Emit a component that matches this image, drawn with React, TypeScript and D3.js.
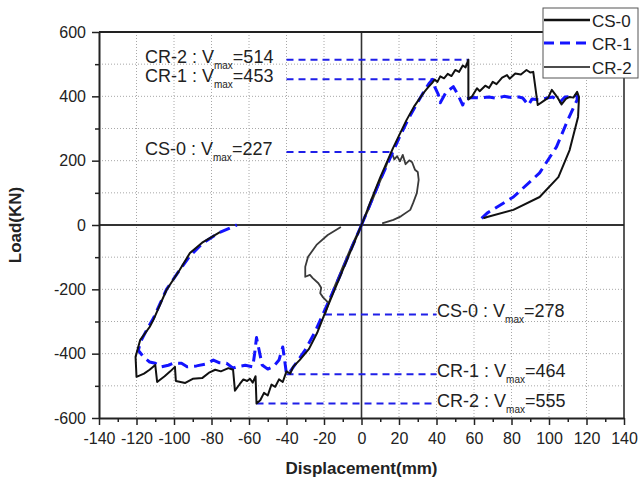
import * as d3 from 'd3';
import {useEffect, useRef} from 'react';

const width = 639;
const height = 483;
const margin = {top: 32, right: 15, bottom: 65, left: 99};

const xMajor = d3.range(-140, 141, 20);
const xMinor = d3.range(-130, 140, 20);
const yMajor = d3.range(-600, 601, 200);
const yMinor = d3.range(-500, 600, 200);

// displacement (mm), load (kN)
const cs0Positive: [number, number][] = [
	[0, 0], [4, 52], [8, 108], [12, 166], [16, 227], [17.5, 204], [19, 214], [20.5, 198], [22, 218],
	[23.5, 189], [25.5, 201], [27, 195], [28.5, 172], [30, 165], [30.5, 140], [29.5, 99], [27.5, 68],
	[26, 47], [21, 27], [17, 16], [11, 5],
];
const cs0Negative: [number, number][] = [
	[0, 0], [-5, -62], [-10, -130], [-15, -200], [-19.5, -278], [-18, -240], [-20.5, -225], [-22, -212],
	[-21.5, -195], [-23, -181], [-26, -165], [-27.5, -155], [-30, -161], [-30, -130], [-28.5, -99],
	[-24, -62], [-18, -31], [-11, -6],
];
const cr1Positive: [number, number][] = [
	[0, 0], [5, 70], [10, 140], [15, 205], [20, 270], [25, 330], [29, 372], [33, 412], [36, 440], [38, 453],
	[39, 430], [41, 405], [42, 380], [45, 412], [49, 430], [51, 410], [54, 373], [55, 392], [59, 396],
	[63, 395], [68, 398], [72, 394], [76, 400], [80, 396], [84, 398], [86, 395], [89, 373], [91, 392],
	[95, 389], [99, 395], [102, 398], [106, 383], [108.5, 398], [112, 400], [115, 404], [115, 389],
	[110, 326], [104, 243], [95, 162], [81, 87], [67, 37], [63, 15],
];
const cr1Negative: [number, number][] = [
	[0, 0], [-5, -68], [-10, -138], [-15, -205], [-20, -270], [-25, -335], [-30, -388], [-34, -422],
	[-38, -455], [-40, -464], [-41, -420], [-42, -379], [-44, -420], [-47, -440], [-50, -448], [-53, -435],
	[-56, -350], [-57, -400], [-58, -441], [-62, -436], [-66, -440], [-68.5, -445], [-72, -430], [-76, -428],
	[-79, -420], [-83, -432], [-88, -438], [-93, -441], [-96, -430], [-100, -429], [-103, -436], [-107, -441],
	[-110, -430], [-113, -426], [-116, -412], [-119, -390], [-118, -365], [-114, -320], [-111, -290],
	[-104, -200], [-97, -140], [-92, -100], [-85, -58], [-76, -24], [-66.5, 0],
];
const cr2Positive: [number, number][] = [
	[0, 0], [5, 75], [10, 148], [16.8, 239], [20, 278], [24, 326], [28, 368], [33, 410], [35.5, 428],
	[37.6, 441], [39, 452], [40.5, 445], [42, 462], [44, 456], [46, 470], [48, 463], [50, 482], [52, 476],
	[54, 496], [55.5, 490], [57, 514], [57, 390], [59, 400], [61.6, 425], [63, 416], [66, 433], [68, 426],
	[70, 445], [72, 438], [75, 458], [77.6, 466], [79, 455], [82, 471], [85, 468], [88, 482], [90, 474],
	[91.6, 476], [94, 373], [97, 385], [99.5, 395], [101.5, 420], [104.7, 395], [106.7, 375], [109, 392],
	[111, 398], [113, 396], [115, 414], [116, 398], [115.5, 336], [111, 233], [105, 149], [95, 87],
	[81, 47], [67, 25], [65, 21],
];
const cr2Negative: [number, number][] = [
	[0, 0], [-5, -70], [-10, -140], [-15, -210], [-19.5, -274], [-23.7, -336], [-28, -385], [-33, -420],
	[-36.5, -441], [-38, -462], [-40, -455], [-42, -488], [-44, -480], [-46, -503], [-48, -496], [-50, -530],
	[-52, -522], [-54, -545], [-56, -555], [-56.5, -470], [-58, -490], [-59.5, -478], [-61, -485],
	[-63, -480], [-65, -495], [-67.5, -515], [-68.5, -450], [-71, -445], [-75, -455], [-78, -450],
	[-81, -458], [-85, -476], [-90, -478], [-94, -491], [-99, -485], [-99.5, -441], [-102, -455],
	[-105, -470], [-109, -488], [-110, -435], [-113, -450], [-116, -462], [-120, -472], [-120.5, -410],
	[-118, -357], [-113, -317], [-111, -295], [-104, -202], [-97, -140], [-91.5, -87], [-85, -55],
	[-75.5, -22],
];

// peak annotations: series, Vmax, dashed line from / to (mm), text anchor (mm)
const peakLabels = ['CR-2', 'CR-1', 'CS-0', 'CS-0', 'CR-1', 'CR-2'];
const peakValues = [514, 453, 227, -278, -464, -555];
const peakFrom = [-40, -40, -40, -19.5, -40, -56];
const peakTo = [57, 38, 16, 40, 40, 40];
const peakTextX = [-115.5, -115.5, -115.5, 40.3, 40.3, 40.3];

const legendNames = ['CS-0', 'CR-1', 'CR-2'];

export default function App() {
	const svgRef = useRef<SVGSVGElement>(null);

	useEffect(() => {
		const svg = d3.select(svgRef.current).attr('width', width).attr('height', height);
		svg.selectAll('*').remove();

		const x = d3.scaleLinear().domain([-140, 140]).range([margin.left, width - margin.right]);
		const y = d3.scaleLinear().domain([-600, 600]).range([height - margin.bottom, margin.top]);
		const font = 'Liberation Sans, Arial, sans-serif';

		svg.append('rect').attr('width', width).attr('height', height).attr('fill', '#fff');

		// dotted grid
		const grid = svg.append('g').attr('stroke', '#a8a8a8').attr('stroke-width', 1).attr('stroke-dasharray', '1,2');
		grid
			.selectAll('.gx')
			.data(d3.range(-120, 140, 20).filter((d) => d !== 0))
			.join('line')
			.attr('x1', (d) => x(d))
			.attr('x2', (d) => x(d))
			.attr('y1', y(600))
			.attr('y2', y(-600));
		grid
			.selectAll('.gy')
			.data(d3.range(-500, 600, 100).filter((d) => d !== 0))
			.join('line')
			.attr('x1', x(-140))
			.attr('x2', x(140))
			.attr('y1', (d) => y(d))
			.attr('y2', (d) => y(d));

		// zero lines
		svg.append('line').attr('x1', x(-140)).attr('x2', x(140)).attr('y1', y(0)).attr('y2', y(0)).attr('stroke', '#333').attr('stroke-width', 1.8);
		svg.append('line').attr('x1', x(0)).attr('x2', x(0)).attr('y1', y(600)).attr('y2', y(-600)).attr('stroke', '#333').attr('stroke-width', 1.6);

		// frame
		svg.append('line').attr('x1', x(-140)).attr('x2', x(140)).attr('y1', y(600)).attr('y2', y(600)).attr('stroke', '#222').attr('stroke-width', 2);
		svg.append('line').attr('x1', x(140)).attr('x2', x(140)).attr('y1', y(600)).attr('y2', y(-600)).attr('stroke', '#222').attr('stroke-width', 1.5);

		const styleAxis = (g: d3.Selection<SVGGElement, unknown, null, undefined>) => {
			g.select('.domain').attr('stroke', '#222').attr('stroke-width', 2);
			g.selectAll('.tick line').attr('stroke', '#222').attr('stroke-width', 1.5);
			g.selectAll('.tick text').attr('fill', '#222').style('font-family', font).style('font-size', '16px');
		};

		const xAxis = svg
			.append('g')
			.attr('transform', `translate(0,${y(-600)})`)
			.call(d3.axisBottom(x).tickValues(xMajor).tickSize(7).tickSizeOuter(0).tickPadding(8).tickFormat((d) => String(d)));
		styleAxis(xAxis);
		svg
			.append('g')
			.attr('transform', `translate(0,${y(-600)})`)
			.call(d3.axisBottom(x).tickValues(xMinor).tickSize(4).tickSizeOuter(0).tickFormat(() => ''))
			.call((g) => g.select('.domain').remove())
			.selectAll('.tick line')
			.attr('stroke', '#222')
			.attr('stroke-width', 1.5);

		const yAxis = svg
			.append('g')
			.attr('transform', `translate(${x(-140)},0)`)
			.call(d3.axisLeft(y).tickValues(yMajor).tickSize(7).tickSizeOuter(0).tickPadding(6).tickFormat((d) => String(d)));
		styleAxis(yAxis);
		svg
			.append('g')
			.attr('transform', `translate(${x(-140)},0)`)
			.call(d3.axisLeft(y).tickValues(yMinor).tickSize(4).tickSizeOuter(0).tickFormat(() => ''))
			.call((g) => g.select('.domain').remove())
			.selectAll('.tick line')
			.attr('stroke', '#222')
			.attr('stroke-width', 1.5);

		// axis titles
		svg
			.append('text')
			.attr('x', x(0))
			.attr('y', 474)
			.attr('text-anchor', 'middle')
			.style('font-family', font)
			.style('font-size', '17px')
			.style('font-weight', 'bold')
			.attr('fill', '#222')
			.text('Displacement(mm)');
		svg
			.append('text')
			.attr('transform', `translate(21,${y(0)}) rotate(-90)`)
			.attr('text-anchor', 'middle')
			.style('font-family', font)
			.style('font-size', '17px')
			.style('font-weight', 'bold')
			.attr('fill', '#222')
			.text('Load(KN)');

		// peak dashed lines
		svg
			.selectAll('.peak-line')
			.data(peakValues)
			.join('line')
			.attr('class', 'peak-line')
			.attr('x1', (_, i) => x(peakFrom[i]))
			.attr('x2', (_, i) => x(peakTo[i]))
			.attr('y1', (d) => y(d))
			.attr('y2', (d) => y(d))
			.attr('stroke', '#1f1fe8')
			.attr('stroke-width', 2)
			.attr('stroke-dasharray', '7,5');

		// curves
		const line = d3
			.line<[number, number]>()
			.x((d) => x(d[0]))
			.y((d) => y(d[1]));

		const curves = [
			{data: [cs0Positive, cs0Negative], stroke: '#3a3a3a', w: 1.8, dash: null},
			{data: [cr1Positive, cr1Negative], stroke: '#1414ff', w: 3, dash: '11,6'},
			{data: [cr2Positive, cr2Negative], stroke: '#111', w: 2, dash: null},
		];
		curves.forEach((c) => {
			c.data.forEach((pts) => {
				svg
					.append('path')
					.attr('d', line(pts))
					.attr('fill', 'none')
					.attr('stroke', c.stroke)
					.attr('stroke-width', c.w)
					.attr('stroke-linejoin', 'round')
					.attr('stroke-dasharray', c.dash);
			});
		});

		// peak labels
		const labels = svg
			.selectAll('.peak-label')
			.data(peakValues)
			.join('text')
			.attr('class', 'peak-label')
			.attr('x', (_, i) => x(peakTextX[i]))
			.attr('y', (d) => y(d) + 3)
			.style('font-family', font)
			.style('font-size', '18px')
			.attr('fill', '#222');
		labels.append('tspan').text((_, i) => `${peakLabels[i]} : V`);
		labels.append('tspan').attr('dy', 6).style('font-size', '10px').text('max');
		labels
			.append('tspan')
			.attr('dy', -6)
			.text((d) => `=${Math.abs(d)}`);

		// legend
		const legend = svg.append('g');
		legend.append('rect').attr('x', 543).attr('y', 8).attr('width', 95).attr('height', 70).attr('fill', '#fff').attr('stroke', '#555').attr('stroke-width', 1);
		const legendRows = [
			{y: 20, stroke: '#111', w: 2.6, dash: null},
			{y: 43, stroke: '#1414ff', w: 3, dash: '10,6'},
			{y: 67, stroke: '#111', w: 1.6, dash: null},
		];
		legendRows.forEach((r, i) => {
			legend.append('line').attr('x1', 544).attr('x2', 590).attr('y1', r.y).attr('y2', r.y).attr('stroke', r.stroke).attr('stroke-width', r.w).attr('stroke-dasharray', r.dash);
			legend
				.append('text')
				.attr('x', 592)
				.attr('y', r.y + 7)
				.style('font-family', font)
				.style('font-size', '17px')
				.attr('fill', '#222')
				.text(legendNames[i]);
		});
	}, []);

	return <svg ref={svgRef} style={{position: 'absolute', left: 0, top: 0}} />;
}
